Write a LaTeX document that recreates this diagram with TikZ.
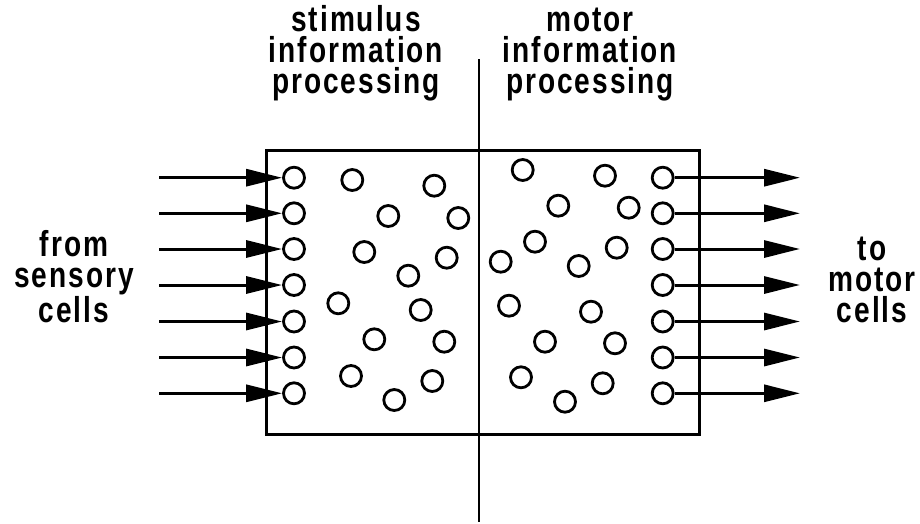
\documentclass[tikz,border=0pt]{standalone}
\usepackage{fontspec}
\setmainfont[FakeStretch=0.78,LetterSpace=5.5]{Liberation Sans}
\usetikzlibrary{arrows.meta}
\begin{document}
\begin{tikzpicture}[x=1pt,y=-1pt,
  cell/.style={circle,draw,line width=2.8pt,minimum size=21pt,inner sep=0pt},
  arr/.style={line width=3pt,-{Triangle[length=36pt,width=17pt]}},
  lbl/.style={align=center,anchor=base,inner sep=0pt,font=\bfseries\fontsize{36}{30.8}\selectfont}]
\useasboundingbox (0,0) rectangle (920,523);
% titles (anchored at the baseline of the last line)
\node[lbl] (tl) at (356,93) {stimulus\\information\\processing};
\node[lbl] (tr) at (590,93) {motor\\information\\processing};
\node[lbl] (sl) at (74,322) {from\\sensory\\cells};
\node[lbl] (sr) at (872,322) {to\\motor\\cells};
% divider
\coordinate (vt) at (479,59);
\coordinate (vb) at (479,522);
\draw[line width=2pt] (vt) -- (vb);
% box
\node[draw,line width=3.2pt,minimum width=433pt,minimum height=284pt,inner sep=0pt,anchor=north west] (box) at (265,149) {};
% input / output columns
\foreach \i/\y in {1/177.7,2/213.3,3/249,4/285,5/321.5,6/357.5,7/393.3}{
  \node[cell] (L\i) at (294,\y) {};
  \coordinate (Ls\i) at (159,\y);
  \draw[arr] (Ls\i) -- (L\i.west);
  \node[cell] (R\i) at (662.7,\y) {};
  \coordinate (Re\i) at (800,\y);
  \draw[arr] (R\i.east) -- (Re\i);
}
% inner cells
\foreach \n/\x/\y in {a/352.3/180,b/434.3/185.7,c/388.3/216,d/458.3/218,e/364.3/252,f/446.7/257.7,g/408.3/275.7,h/338.3/303.3,i/420.7/310,j/374.3/339.3,k/444.3/341.7,l/351/376,m/432.3/381,n/394.3/400,
  o/522.7/170,p/605/175.7,q/558.3/205.7,r/628.7/207.7,s/535/241.7,t/616.7/247.7,u/500.7/261.7,v/578.7/266,w/509/305.7,x/591/311.7,y/545/341.7,z/615/343.3,aa/521/377.3,ab/602.7/383.3,ac/565/401.7}{
  \node[cell] (c\n) at (\x,\y) {};
}
\end{tikzpicture}
\end{document}
